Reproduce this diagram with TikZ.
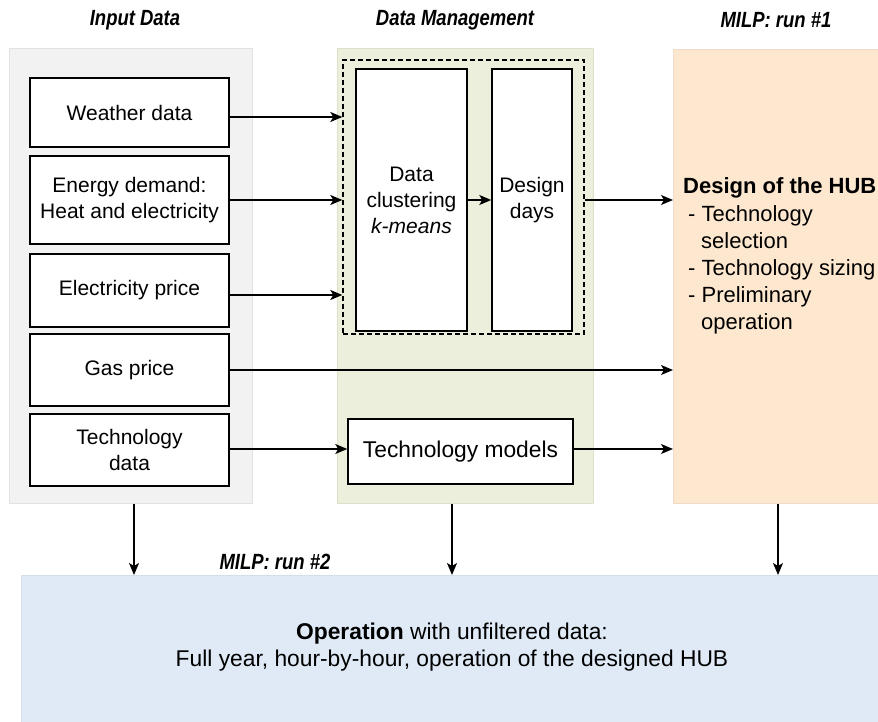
\documentclass[tikz,border=0pt]{standalone}
\usepackage{fontspec}
\setmainfont{Liberation Sans}
\newfontfamily\narrowfont[FakeStretch=0.84]{Liberation Sans}
\usetikzlibrary{arrows.meta,positioning}
\definecolor{panelgray}{HTML}{F2F2F2}
\definecolor{panelgrayline}{HTML}{E2E2E2}
\definecolor{panelgreen}{HTML}{EBEFDC}
\definecolor{panelgreenline}{HTML}{DCE2C8}
\definecolor{panelorange}{HTML}{FDE7CF}
\definecolor{panelorangeline}{HTML}{EEDCCB}
\definecolor{panelblue}{HTML}{DFEAF6}
\definecolor{panelblueline}{HTML}{D3DEEA}
\tikzset{
  panel/.style={draw=#1line, fill=#1, line width=1pt},
  boxnode/.style={draw=black, fill=white, line width=1.5pt, align=center,
    font=\fontsize{21}{26}\selectfont, inner sep=0pt},
  heading/.style={font=\narrowfont\fontsize{22}{26}\selectfont\bfseries\itshape},
  txt/.style={font=\fontsize{22}{27}\selectfont, inner sep=0pt},
  arr/.style={-{Stealth[length=12pt,width=10pt,inset=3pt]}, line width=1.4pt},
}
\begin{document}
\begin{tikzpicture}[x=1pt,y=-1pt]
\useasboundingbox (0,0) rectangle (878,722);
\clip (0,0) rectangle (878,722);
% panels
\node[panel=panelgray, minimum width=243pt, minimum height=454pt, inner sep=0pt] (pin) at (131,276) {};
\node[panel=panelgreen, minimum width=256pt, minimum height=454pt, inner sep=0pt] (pdm) at (465,276) {};
\node[panel=panelorange, minimum width=260pt, minimum height=454pt, inner sep=0pt, anchor=north west] (pmilp) at (673,49) {};
\node[panel=panelblue, minimum width=900pt, minimum height=200pt, inner sep=0pt, anchor=north west] (pop) at (21,575) {};
% headings
\node[heading] (hin) at (135,20) {Input Data};
\node[heading] (hdm) at (455,20) {Data Management};
\node[heading] (hmilp) at (776,20) {MILP: run \#1};
\node[heading] (hrun2) at (275,562) {MILP: run \#2};
% input boxes
\node[boxnode, minimum width=199pt, minimum height=69pt] (weather) at (129.5,112.5) {Weather data};
\node[boxnode, minimum width=199pt, minimum height=88pt] (energy) at (129.5,200) {Energy demand:\\Heat and electricity};
\node[boxnode, minimum width=199pt, minimum height=73pt] (elec) at (129.5,290.5) {Electricity price};
\node[boxnode, minimum width=199pt, minimum height=72pt] (gas) at (129.5,370) {Gas price};
\node[boxnode, minimum width=199pt, minimum height=72pt] (techdata) at (129.5,450) {Technology\\data};
% data management
\node[draw=black, line width=1.4pt, minimum width=241pt, minimum height=274pt, inner sep=0pt, dash pattern=on 5pt off 3pt] (dash) at (463.5,197) {};
\node[boxnode, minimum width=111pt, minimum height=262pt] (clust) at (411.5,200) {Data\\clustering\\\textit{k-means}};
\node[boxnode, minimum width=80pt, minimum height=262pt] (days) at (532,200) {Design\\days};
\node[boxnode, minimum width=225pt, minimum height=65pt, font=\fontsize{22.8}{27}\selectfont] (techmod) at (460.5,451.5) {Technology models};
% MILP run 1 text
\node[txt, anchor=west] (hubtitle) at (683,188) {\bfseries Design of the HUB};
\node[txt, anchor=north west, align=left] (hublist) at (688,205) {-\ Technology\\\hspace*{13pt}selection\\-\ Technology sizing\\-\ Preliminary\\\hspace*{13pt}operation};
% operation text
\node[txt, align=center, font=\fontsize{22.8}{27}\selectfont] (optext) at (452,647) {\textbf{Operation} with unfiltered data:\\Full year, hour-by-hour, operation of the designed HUB};
% arrows
\draw[arr] (weather.east |- 0,117) coordinate (w1) -- (w1 -| dash.west);
\draw[arr] (energy.east) -- (energy.east -| dash.west);
\draw[arr] (elec.east |- 0,295) coordinate (e1) -- (e1 -| dash.west);
\draw[arr] (clust.east) -- (days.west);
\draw[arr] (dash.east |- days.east) -- (pmilp.west |- days.east);
\draw[arr] (gas.east) -- (pmilp.west |- gas.east);
\draw[arr] (techdata.east |- 0,449) coordinate (t1) -- (t1 -| techmod.west);
\draw[arr] (techmod.east |- 0,449) coordinate (t2) -- (t2 -| pmilp.west);
\draw[arr] (pin.south -| 134,0) coordinate (d1) -- (d1 |- pop.north);
\draw[arr] (pdm.south -| 452,0) coordinate (d2) -- (d2 |- pop.north);
\draw[arr] (pmilp.south -| 778,0) coordinate (d3) -- (d3 |- pop.north);
\end{tikzpicture}
\end{document}
